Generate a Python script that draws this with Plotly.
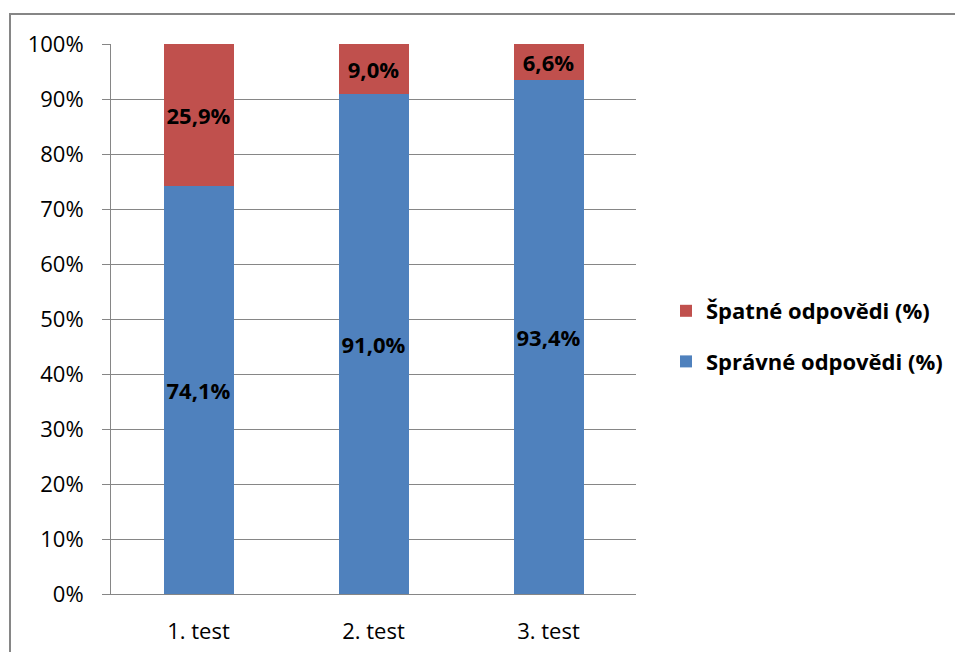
import plotly.graph_objects as go

# Results of three tests, share of answers in percent
tests = ["1. test", "2. test", "3. test"]
correct = [74.1, 91.0, 93.4]
wrong = [25.9, 9.0, 6.6]
series_names = ["Správné odpovědi (%)", "Špatné odpovědi (%)"]

W, H = 955, 652
ML, MR, MT, MB = 111, 319, 44, 58
PW, PH = W - ML - MR, H - MT - MB

FONT = "Open Sans"
GRID = "#868686"
LABEL_FONT = dict(family=FONT, size=22, color="black", weight="bold")

fig = go.Figure()
fig.add_trace(go.Bar(
    x=tests, y=correct, name=series_names[0],
    legendrank=2, legendgroup="correct",
    marker=dict(color="#4F81BD", line=dict(width=0)),
    texttemplate="%{y:.1f}%", textposition="inside", insidetextanchor="middle",
    textangle=0, constraintext="none", textfont=LABEL_FONT,
))
fig.add_trace(go.Bar(
    x=tests, y=wrong, name=series_names[1],
    legendrank=1, legendgroup="wrong",
    marker=dict(color="#C0504D", line=dict(width=0)),
    texttemplate="%{y:.1f}%", textposition="inside", insidetextanchor="middle",
    textangle=0, constraintext="none", textfont=LABEL_FONT,
))


def px_x(p):
    return (p - ML) / PW


def px_y(p):
    return (H - MB - p) / PH


fig.update_layout(
    width=W, height=H,
    margin=dict(l=ML, r=MR, t=MT, b=MB, autoexpand=False),
    barmode="stack", bargap=0.6,
    separators=", ",
    paper_bgcolor="white", plot_bgcolor="white",
    font=dict(family=FONT, size=22, color="black"),
    uniformtext=dict(mode="show", minsize=22),
    showlegend=True,
    legend=dict(
        x=px_x(666), y=px_y(290), xanchor="left", yanchor="top",
        traceorder="grouped", tracegroupgap=19,
        font=dict(family=FONT, size=22, color="black", weight="bold"),
        bgcolor="rgba(0,0,0,0)", itemwidth=30,
    ),
    xaxis=dict(
        showline=True, linecolor=GRID, linewidth=1, ticks="",
        showgrid=False, ticklabelstandoff=18, automargin=False,
        tickfont=dict(family=FONT, size=22, color="black"),
    ),
    yaxis=dict(
        range=[0, 100], dtick=10, ticksuffix="%",
        showgrid=True, gridcolor=GRID, gridwidth=1,
        showline=True, linecolor=GRID, linewidth=1,
        ticks="outside", ticklen=8, tickcolor=GRID,
        ticklabelstandoff=14, zeroline=False, automargin=False,
        tickfont=dict(family=FONT, size=22, color="black"),
    ),
    shapes=[dict(
        type="rect", xref="paper", yref="paper",
        x0=px_x(10), x1=px_x(962), y0=px_y(14), y1=px_y(670),
        line=dict(color=GRID, width=2), fillcolor="rgba(0,0,0,0)", layer="below",
    )],
)

fig.write_html("out.html")
